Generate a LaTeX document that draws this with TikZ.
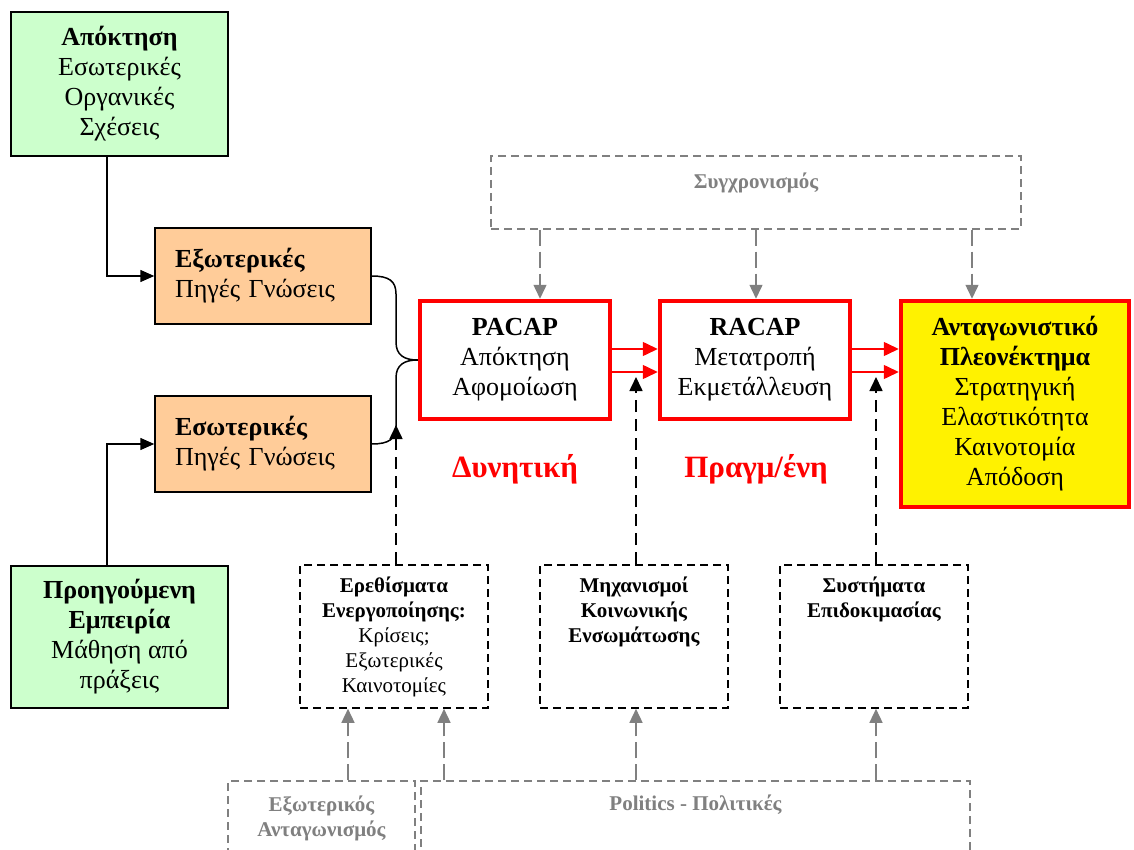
\documentclass[tikz,border=0pt]{standalone}
\usepackage{fontspec}
\setmainfont{Liberation Serif}
\usetikzlibrary{arrows.meta}
\definecolor{lgreen}{HTML}{CCFFCC}
\definecolor{ltan}{HTML}{FFCC99}
\definecolor{grey}{HTML}{808080}
\tikzset{
  big/.style={font=\fontsize{26}{30}\selectfont},
  small/.style={font=\fontsize{21}{25}\selectfont},
  gfont/.style={font=\bfseries\fontsize{21}{25}\selectfont, text=grey},
  tip/.style={-{Triangle[length=14pt,width=12pt]}},
  conn/.style={line width=1.5pt, black},
  gbox/.style={draw, line width=1.5pt, fill=lgreen, align=center, inner sep=0pt, big},
  obox/.style={draw, line width=1.5pt, fill=ltan, align=left, text width=176pt,
     inner xsep=20pt, inner ysep=0pt, minimum width=216, minimum height=96, big},
  rbox/.style={draw=red, line width=4.5pt, fill=white, align=center, inner sep=0pt, big},
  dbox/.style={draw, line width=1.6pt, dash pattern=on 8pt off 5pt, align=center,
     inner sep=0pt, minimum width=188, minimum height=143, small},
  gdbox/.style={draw=grey, line width=1.4pt, dash pattern=on 8pt off 5pt},
  garrow/.style={draw=grey, line width=1.5pt, dash pattern=on 16pt off 6pt,
     -{Triangle[length=14pt,width=13pt,fill=grey]}},
  barrow/.style={draw=black, line width=1.6pt, dash pattern=on 12pt off 7pt,
     -{Triangle[length=14pt,width=13pt,fill=black]}},
  rarrow/.style={draw=red, line width=1.5pt, -{Triangle[length=15pt,width=14pt,fill=red]}},
  redlab/.style={text=red, font=\bfseries\fontsize{31}{34}\selectfont}
}
\begin{document}
\begin{tikzpicture}[x=1pt,y=-1pt]
\clip (0,0) rectangle (1134,850);
\fill[white] (0,0) rectangle (1134,850);

% column coordinates
\coordinate (gx) at (107,0);
\coordinate (k1) at (396,0);
\coordinate (c1) at (348,0);
\coordinate (c2) at (444,0);
\coordinate (c3) at (636,0);
\coordinate (c4) at (876,0);
\coordinate (s1) at (540,0);
\coordinate (s2) at (756,0);
\coordinate (s3) at (972,0);
\coordinate (ya) at (0,349);
\coordinate (yb) at (0,372);
\coordinate (t1) at (396,425);
\coordinate (t2) at (636,377);
\coordinate (t3) at (876,377);

% left column
\node[gbox, minimum width=217, minimum height=144] (g1) at (119.5,84)
  {\textbf{Απόκτηση}\\Εσωτερικές\\Οργανικές\\Σχέσεις};
\node[obox] (o1) at (263,276) {\textbf{Εξωτερικές}\\Πηγές Γνώσεις};
\node[obox] (o2) at (263,444) {\textbf{Εσωτερικές}\\Πηγές Γνώσεις};
\node[gbox, minimum width=217, minimum height=142] (g2) at (119.5,637)
  {\textbf{Προηγούμενη}\\\textbf{Εμπειρία}\\Μάθηση από\\πράξεις};

% main boxes
\node[rbox, minimum width=190, minimum height=118] (pac) at (515,360)
  {\textbf{PACAP}\\Απόκτηση\\Αφομοίωση};
\node[rbox, minimum width=190, minimum height=118] (rac) at (755,360)
  {\textbf{RACAP}\\Μετατροπή\\Εκμετάλλευση};
\node[rbox, fill=yellow, minimum width=228, minimum height=206] (ca) at (1015,404)
  {\textbf{Ανταγωνιστικό}\\\textbf{Πλεονέκτημα}\\Στρατηγική\\Ελαστικότητα\\Καινοτομία\\Απόδοση};

% synchronisation
\node[gdbox, minimum width=530, minimum height=73] (sync) at (756,192.5) {};
\node[gfont] (synct) at (756,183) {Συγχρονισμός};

% labels
\node[redlab] (dyn) at (515,469) {Δυνητική};
\node[redlab] (prag) at (756,469) {Πραγμ/ένη};

% dashed boxes
\node[dbox] (er) at (394,636.5)
  {\textbf{Ερεθίσματα}\\\textbf{Ενεργοποίησης:}\\Κρίσεις;\\Εξωτερικές\\Καινοτομίες};
\node[dbox] (mech) at (634,636.5) {};
\node[small, align=center, anchor=north, inner sep=0pt] (mecht) at (634,577)
  {\textbf{Μηχανισμοί}\\\textbf{Κοινωνικής}\\\textbf{Ενσωμάτωσης}};
\node[dbox] (sys) at (874,636.5) {};
\node[small, align=center, anchor=north, inner sep=0pt] (syst) at (874,577)
  {\textbf{Συστήματα}\\\textbf{Επιδοκιμασίας}};

% bottom grey boxes
\node[gdbox, minimum width=187, minimum height=118] (ext) at (321.5,840) {};
\node[gfont, align=center] (extt) at (321.5,818) {Εξωτερικός\\Ανταγωνισμός};
\node[gdbox, minimum width=549, minimum height=118] (pol) at (695.5,840) {};
\node[gfont] (polt) at (695.5,805) {Politics - Πολιτικές};

% connectors: green to orange
\draw[conn, tip] (g1.south -| gx) |- (o1.west);
\draw[conn, tip] (g2.north -| gx) |- (o2.west);

% brace into PACAP
\draw[conn] (o1.east) .. controls (389,276) and (396,281) .. (396,294)
  -- (396,342) .. controls (396,355) and (404,360) .. (pac.west);
\draw[conn] (o2.east) .. controls (389,444) and (396,439) .. (396,426)
  -- (396,378) .. controls (396,365) and (404,360) .. (pac.west);

% red arrows
\draw[rarrow] (pac.east |- ya) -- (rac.west |- ya);
\draw[rarrow] (pac.east |- yb) -- (rac.west |- yb);
\draw[rarrow] (rac.east |- ya) -- (ca.west |- ya);
\draw[rarrow] (rac.east |- yb) -- (ca.west |- yb);

% grey arrows from synchronisation
\draw[garrow] (sync.south -| s1) -- (pac.north -| s1);
\draw[garrow] (sync.south -| s2) -- (rac.north -| s2);
\draw[garrow] (sync.south -| s3) -- (ca.north -| s3);

% black dashed arrows up
\draw[barrow] (er.north -| k1) -- (t1);
\draw[barrow] (mech.north -| c3) -- (t2);
\draw[barrow] (sys.north -| c4) -- (t3);

% grey arrows from bottom boxes
\draw[garrow] (ext.north -| c1) -- (er.south -| c1);
\draw[garrow] (pol.north -| c2) -- (er.south -| c2);
\draw[garrow] (pol.north -| c3) -- (mech.south -| c3);
\draw[garrow] (pol.north -| c4) -- (sys.south -| c4);
\end{tikzpicture}
\end{document}
